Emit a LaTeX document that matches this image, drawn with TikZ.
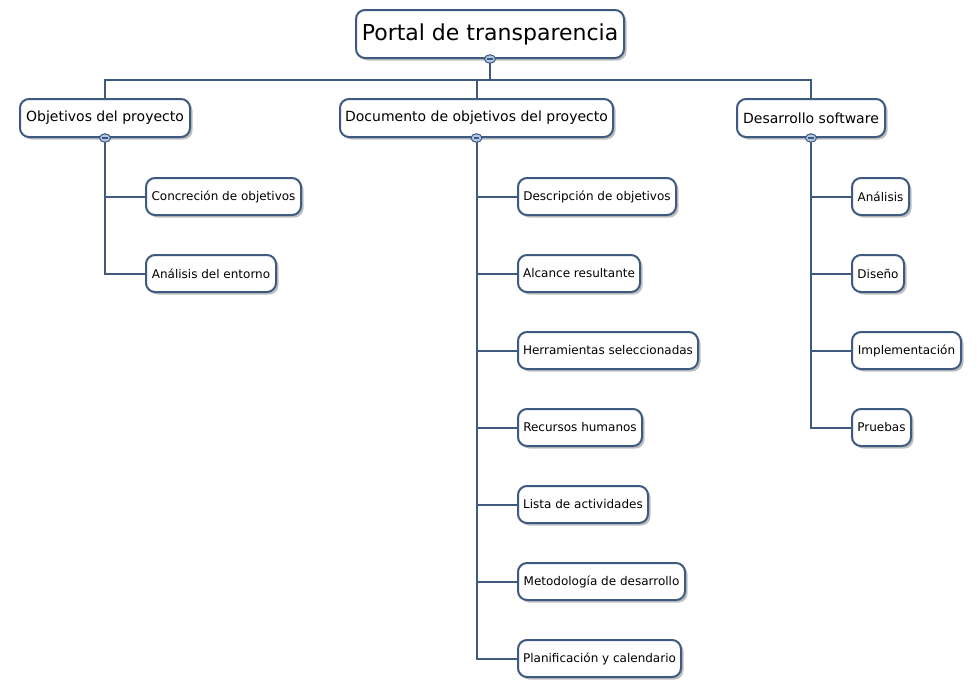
\documentclass[tikz,border=0pt]{standalone}
\usepackage{fontspec}
\setmainfont{DejaVu Sans}
\usetikzlibrary{shadows,shapes.geometric,backgrounds}
\definecolor{lc}{HTML}{3E5A80}
\definecolor{mk}{HTML}{AFC6E4}
\tikzset{
  box/.style={draw=lc, line width=2pt, fill=white, rounded corners=9pt, inner sep=0pt,
    drop shadow={shadow xshift=2.5pt, shadow yshift=-2.5pt, fill=black, opacity=0.25}},
  rootbox/.style={box, minimum height=48pt, font=\fontsize{22}{26}\selectfont},
  midbox/.style={box, minimum height=38pt, font=\fontsize{14}{17}\selectfont},
  leaf/.style={box, minimum height=37pt, anchor=west, font=\fontsize{12}{14}\selectfont},
  conn/.style={draw=lc, line width=2pt},
  marker/.style={ellipse, draw=lc, line width=1pt, fill=mk, minimum width=11pt, minimum height=8.5pt, inner sep=0pt}
}
\begin{document}
\begin{tikzpicture}[x=1pt,y=-1pt]
\useasboundingbox (0,0) rectangle (980,697);
% root and first level
\node[rootbox, minimum width=268pt] (root) at (490,34) {Portal de transparencia};
\node[midbox, minimum width=170pt] (o) at (105,118) {Objetivos del proyecto};
\node[midbox, minimum width=273pt] (d) at (476.5,118) {Documento de objetivos del proyecto};
\node[midbox, minimum width=148pt] (s) at (811,118) {Desarrollo software};
% leaves of o
\node[leaf, minimum width=155pt] (o1) at (145,196.5) {Concreción de objetivos};
\node[leaf, minimum width=130pt] (o2) at (145,273.5) {Análisis del entorno};
% leaves of d
\node[leaf, minimum width=158pt] (d1) at (517,196.5) {Descripción de objetivos};
\node[leaf, minimum width=122pt] (d2) at (517,273.5) {Alcance resultante};
\node[leaf, minimum width=180pt] (d3) at (517,350.5) {Herramientas seleccionadas};
\node[leaf, minimum width=124pt] (d4) at (517,427.5) {Recursos humanos};
\node[leaf, minimum width=130pt] (d5) at (517,504.5) {Lista de actividades};
\node[leaf, minimum width=167pt] (d6) at (517,581.5) {Metodología de desarrollo};
\node[leaf, minimum width=163pt] (d7) at (517,658.5) {Planificación y calendario};
% leaves of s
\node[leaf, minimum width=57pt] (s1) at (851,196.5) {Análisis};
\node[leaf, minimum width=52pt] (s2) at (851,273.5) {Diseño};
\node[leaf, minimum width=109pt] (s3) at (851,350.5) {Implementación};
\node[leaf, minimum width=59pt] (s4) at (851,427.5) {Pruebas};
\path (root.south) ++(0,21) coordinate (bus);
\begin{scope}[on background layer]
\draw[conn] (root.south) -- (bus);
\draw[conn] (o.north) |- (bus) -| (s.north);
\draw[conn] (d.north) -- (d.north |- bus);
\foreach \c in {o1,o2} \draw[conn] (o.south) |- (\c.west);
\foreach \c in {d1,d2,d3,d4,d5,d6,d7} \draw[conn] (d.south) |- (\c.west);
\foreach \c in {s1,s2,s3,s4} \draw[conn] (s.south) |- (\c.west);
\end{scope}
% collapse markers
\foreach \n in {root,o,d,s}{
  \node[marker] (m\n) at (\n.south) {};
  \draw[lc, line width=1.6pt] ([xshift=-2.8pt]m\n.center) -- ([xshift=2.8pt]m\n.center);
}
\end{tikzpicture}
\end{document}
